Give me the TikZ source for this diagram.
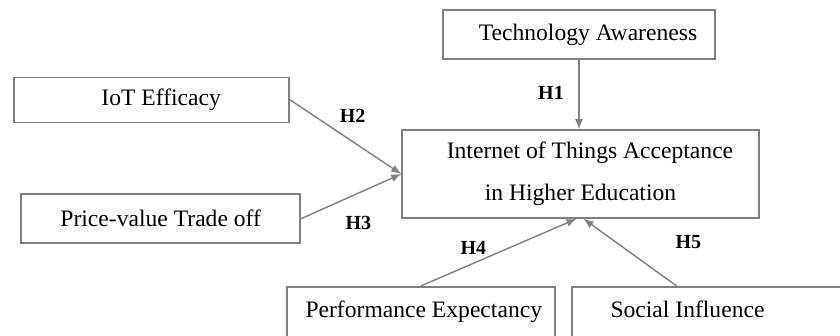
\documentclass[tikz,border=0pt]{standalone}
\usepackage{fontspec}
\setmainfont{Liberation Serif}
\usetikzlibrary{arrows.meta,calc}
\definecolor{linegray}{RGB}{128,128,128}
\begin{document}
\begin{tikzpicture}[x=1pt,y=-1pt,
  box/.style={draw=linegray, line width=1.6pt, rectangle, inner sep=0pt,
    font=\fontsize{23.6}{41.7}\selectfont, text=black},
  conn/.style={draw=linegray, line width=1.4pt, -{Latex[length=10pt,width=8pt]}},
  hlab/.style={font=\fontsize{20}{24}\selectfont\bfseries, inner sep=0pt, text=black}]
\useasboundingbox (0,0) rectangle (840,335);
\clip (0,0) rectangle (840,335);
% boxes
\node[box, minimum width=272pt, minimum height=49pt] (ta) at (579,34.7) {\hspace*{18pt}Technology Awareness};
\node[box, minimum width=275pt, minimum height=45pt] (iot) at (151.7,99.8) {\hspace*{19pt}IoT Efficacy};
\node[box, minimum width=279pt, minimum height=49pt] (pv) at (160.7,218.7) {Price-value Trade off};
\node[box, minimum width=357pt, minimum height=88pt, align=center] (cen) at (580.5,174)
  {\hspace*{19pt}Internet of Things Acceptance\\in Higher Education};
\node[box, anchor=north west, minimum width=268pt, text height=30.5pt, text depth=60pt] (pe) at (286,286)
  {\hspace*{6pt}Performance Expectancy};
\node[box, anchor=north west, minimum width=300pt, text height=30.5pt, text depth=60pt] (si) at (571,286)
  {Social Influence\hspace*{68.6pt}};
% connectors
\draw[conn] (ta.south) -- (ta.south |- cen.north);
\draw[conn] (iot.east) -- (cen.west);
\draw[conn] (pv.east) -- (cen.west);
\draw[conn] (pe.north) -- ($(cen.south)+(-4,0)$);
\draw[conn] ($(si.north west)+(105.7,0)$) -- ($(cen.south)+(3,0)$);
% labels
\node[hlab] (h1) at (551,92.7) {H1};
\node[hlab] (h2) at (352.7,115.7) {H2};
\node[hlab] (h3) at (358.3,222.7) {H3};
\node[hlab] (h4) at (473.3,248.3) {H4};
\node[hlab] (h5) at (688.3,241.7) {H5};
\end{tikzpicture}
\end{document}
